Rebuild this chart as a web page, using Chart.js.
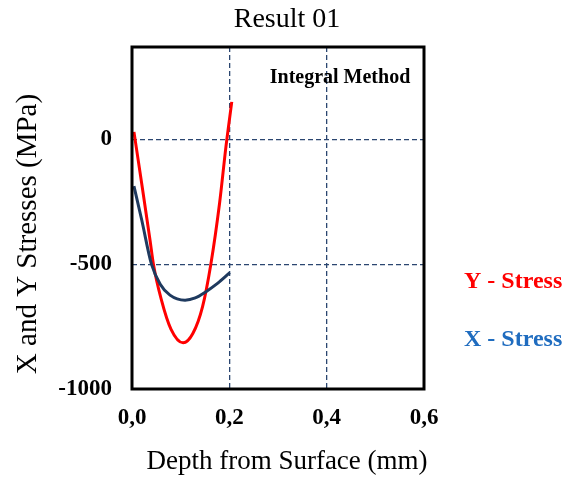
<!DOCTYPE html>
<html><head><meta charset="utf-8">
<script src="https://cdn.jsdelivr.net/npm/chart.js@4.4.1/dist/chart.umd.min.js"></script>
<style>html,body{margin:0;padding:0;background:#fff;}#wrap{width:579px;height:481px;}</style>
</head><body><div id="wrap"><canvas id="c" width="579" height="481"></canvas></div>
<script>
const chartTitle = "Result 01";
const methodLabel = "Integral Method";
const xAxisTitle = "Depth from Surface (mm)";
const yAxisTitle = "X and Y Stresses (MPa)";
const seriesNames = ["Y - Stress", "X - Stress"];
const xTickValues = [0, 0.2, 0.4, 0.6];
const xTickLabels = ["0,0", "0,2", "0,4", "0,6"];
const yTickValues = [-1000, -500, 0];
const yTickLabels = ["-1000", "-500", "0"];
const yStressDepth  = [0.004, 0.02, 0.037, 0.044, 0.06, 0.08, 0.105, 0.125, 0.145, 0.162, 0.18, 0.193, 0.205];
const yStressValues = [30, -178, -403, -500, -640, -760, -815, -778, -670, -500, -255, -30, 150];
const xStressDepth  = [0.004, 0.02, 0.04, 0.058, 0.078, 0.109, 0.13, 0.152, 0.175, 0.201];
const xStressValues = [-187, -323, -500, -580, -624, -644, -635, -610, -578, -534];

const SERIF = "'Liberation Serif', 'Times New Roman', serif";
const RED = '#ff0000', NAVY = '#1f3a5f', LEGBLUE = '#1f6cbf', GRID = '#2b4670';

const decor = {
  id: 'decor',
  afterDraw(chart) {
    const {ctx, chartArea: a} = chart;
    ctx.save();
    ctx.strokeStyle = '#000'; ctx.lineWidth = 3;
    ctx.strokeRect(a.left, a.top, a.right - a.left, a.bottom - a.top);
    ctx.fillStyle = '#000'; ctx.textAlign = 'center'; ctx.textBaseline = 'middle';
    ctx.font = `28px ${SERIF}`;
    ctx.fillText(chartTitle, 287, 20);
    ctx.font = `27px ${SERIF}`;
    ctx.fillText(xAxisTitle, 287, 462);
    ctx.font = `bold 20px ${SERIF}`;
    ctx.fillText(methodLabel, 340, 78);
    ctx.save();
    ctx.translate(28, 234); ctx.rotate(-Math.PI / 2);
    ctx.font = `29px ${SERIF}`;
    ctx.fillText(yAxisTitle, 0, 0);
    ctx.restore();
    ctx.textAlign = 'left';
    ctx.font = `bold 24px ${SERIF}`;
    ctx.fillStyle = RED; ctx.fillText(seriesNames[0], 464, 282);
    ctx.fillStyle = LEGBLUE; ctx.fillText(seriesNames[1], 464, 340);
    ctx.restore();
  }
};

new Chart(document.getElementById('c'), {
  type: 'line',
  data: {
    datasets: [
      { label: seriesNames[0], data: yStressDepth.map((d, i) => ({x: d, y: yStressValues[i]})),
        borderColor: RED, borderWidth: 3, pointRadius: 0, cubicInterpolationMode: 'monotone', fill: false, order: 1 },
      { label: seriesNames[1], data: xStressDepth.map((d, i) => ({x: d, y: xStressValues[i]})),
        borderColor: NAVY, borderWidth: 3, pointRadius: 0, cubicInterpolationMode: 'monotone', fill: false, order: 0 }
    ]
  },
  options: {
    responsive: false, animation: false, devicePixelRatio: 1,
    layout: { padding: { top: 47, right: 155, left: 0, bottom: 0 } },
    plugins: { legend: { display: false }, tooltip: { enabled: false }, title: { display: false } },
    scales: {
      x: {
        type: 'linear', min: 0, max: 0.6,
        afterBuildTicks: s => { s.ticks = xTickValues.map(v => ({value: v})); },
        afterFit: s => { s.height = 92; },
        ticks: { padding: 15, color: '#000', font: { family: SERIF, size: 23, weight: 'bold' },
          callback: (v, i) => xTickLabels[i], maxRotation: 0 },
        grid: { drawTicks: false, lineWidth: 1.3,
          color: c => (c.tick && c.tick.value > 0 && c.tick.value < 0.6) ? GRID : 'rgba(0,0,0,0)' },
        border: { display: false, dash: [5, 3] }
      },
      y: {
        type: 'linear', min: -1000, max: 370,
        afterBuildTicks: s => { s.ticks = yTickValues.map(v => ({value: v})); },
        afterFit: s => { s.width = 132; },
        ticks: { padding: 20, color: '#000', font: { family: SERIF, size: 23, weight: 'bold' },
          callback: (v, i) => yTickLabels[i] },
        grid: { drawTicks: false, lineWidth: 1.3,
          color: c => (c.tick && c.tick.value > -1000) ? GRID : 'rgba(0,0,0,0)' },
        border: { display: false, dash: [5, 3] }
      }
    }
  },
  plugins: [decor]
});
</script></body></html>
